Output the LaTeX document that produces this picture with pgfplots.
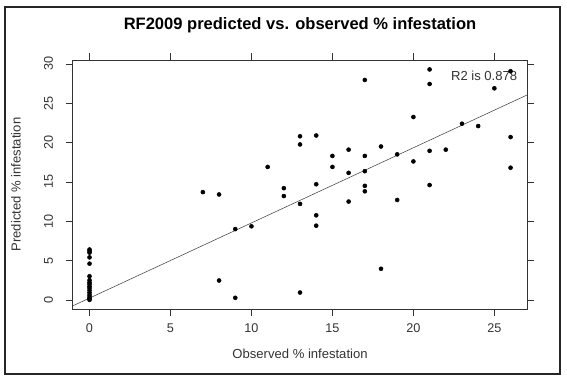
\documentclass[border=0pt]{standalone}
\usepackage{pgfplots}
\pgfplotsset{compat=1.18}
\usepackage{fontspec}
\setmainfont{Liberation Sans}

\begin{document}
\begin{tikzpicture}
\useasboundingbox (-54.5pt,-52.5pt) rectangle (370.7pt,231.75pt);
\draw[line width=0.9pt, black!85] (-50.8pt,-48.75pt) rectangle (365.5pt,226.5pt);
\begin{axis}[
    at={(0,0)}, anchor=south west,
    scale only axis,
    width=341pt, height=186.75pt,
    xmin=-1.04, xmax=27.04,
    ymin=-1.17, ymax=30.5,
    xtick={0,5,10,15,20,25},
    ytick={0,5,10,15,20,25,30},
    tick align=outside,
    major tick length=5.25pt,
    tick style={black!80, line width=0.5pt},
    axis line style={black!80, line width=0.6pt},
    ticklabel style={font=\fontsize{9.5}{11}\selectfont, text=black!80},
    xticklabel shift=2.5pt,
    yticklabel={\rotatebox{90}{\pgfmathprintnumber{\tick}}},
    yticklabel style={anchor=east, xshift=-6pt},
    /pgf/number format/assume math mode=true,
    title={\bfseries RF2009 predicted vs. observed \% infestation},
    title style={font=\fontsize{12.4}{14}\selectfont, at={(axis description cs:0.5,1.108)}, anchor=center},
    xlabel={Observed \% infestation},
    ylabel={Predicted \% infestation},
    label style={font=\fontsize{9.8}{12}\selectfont, text=black!80},
    xlabel style={at={(axis description cs:0.5,-0.181)}, anchor=center},
    ylabel style={at={(axis description cs:-0.125,0.5)}, anchor=center},
]
% fitted line
\addplot[black!75, line width=0.4pt] coordinates {(-2,-1.69) (28,26.99)};
\node[anchor=east, font=\fontsize{9.8}{12}\selectfont, text=black!80] at (axis cs:26.7,28.5) {R2 is 0.878};
% observed vs predicted
\addplot[only marks, mark=*, mark size=1.5pt, black] coordinates {
(0,6.4) (0,6.2) (0,6.0) (0,5.4) (0,4.6) (0,3.0) (0,2.5) (0,2.2) (0,2.0)
(0,1.7) (0,1.5) (0,1.2) (0,0.9) (0,0.6) (0,0.35) (0,0.15) (0,0.0)
(7,13.7) (8,13.4) (8,2.46) (9,9.0) (9,0.26) (10,9.35) (11,16.9)
(12,14.2) (12,13.2) (13,20.8) (13,19.76) (13,12.2) (13,0.93)
(14,20.9) (14,14.7) (14,10.75) (14,9.43) (15,18.3) (15,16.9)
(16,19.1) (16,16.15) (16,12.5) (17,27.96) (17,18.3) (17,16.36)
(17,14.5) (17,13.8) (18,19.5) (18,3.95) (19,18.5) (19,12.7)
(20,23.25) (20,17.6) (21,29.3) (21,27.45) (21,18.95) (21,14.6)
(22,19.1) (23,22.4) (24,22.1) (25,26.9) (26,20.7) (26,16.8) (26,29.07)
};
\end{axis}
\end{tikzpicture}
\end{document}
